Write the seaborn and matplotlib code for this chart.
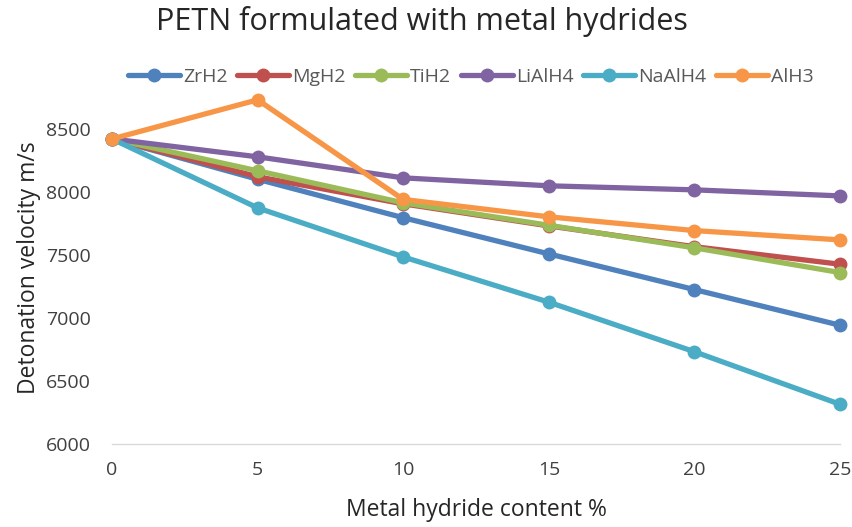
import pandas as pd
import matplotlib.pyplot as plt
import seaborn as sns

# data
content = [0, 5, 10, 15, 20, 25]
zrh2 = [8420, 8100, 7795, 7508, 7225, 6942]
mgh2 = [8420, 8120, 7905, 7730, 7565, 7426]
tih2 = [8420, 8167, 7913, 7735, 7556, 7360]
lialh4 = [8420, 8278, 8111, 8048, 8016, 7968]
naalh4 = [8420, 7873, 7484, 7125, 6732, 6315]
alh3 = [8420, 8730, 7940, 7802, 7693, 7619]

series = {'ZrH2': zrh2, 'MgH2': mgh2, 'TiH2': tih2,
          'LiAlH4': lialh4, 'NaAlH4': naalh4, 'AlH3': alh3}
rows = []
for name, vals in series.items():
    for x, v in zip(content, vals):
        rows.append({'content': x, 'velocity': v, 'hydride': name})
df = pd.DataFrame(rows)

colors = ['#4F81BD', '#C0504D', '#9BBB59', '#8064A2', '#4BACC6', '#F79646']

sns.set_style("white")
plt.rcParams['font.family'] = ['Open Sans', 'DejaVu Sans']

fig = plt.figure(figsize=(8.53, 5.27), dpi=100)
ax = fig.add_axes([0.1313, 0.1575, 0.8535, 0.6698])

sns.lineplot(data=df, x='content', y='velocity', hue='hydride', style='hydride',
             markers={k: 'o' for k in series}, dashes=False, palette=colors,
             linewidth=3.8, markersize=10, markeredgewidth=0, ax=ax)
for line in ax.lines:
    line.set_clip_on(False)

ax.set_xlim(0, 25)
ax.set_ylim(6000, 8800)
ax.set_xticks(content)
ax.set_yticks([6000, 6500, 7000, 7500, 8000, 8500])
ax.tick_params(axis='both', labelsize=14, colors='#404040', length=0)
ax.tick_params(axis='x', pad=12)
ax.tick_params(axis='y', pad=15)
for s in ['top', 'right', 'left']:
    ax.spines[s].set_visible(False)
ax.spines['bottom'].set_color('#D9D9D9')
ax.spines['bottom'].set_linewidth(1)

ax.set_xlabel('Metal hydride content %', fontsize=16.5, color='#262626', labelpad=14)
ax.set_ylabel('Detonation velocity m/s', fontsize=16.5, color='#262626', labelpad=4)
fig.text(0.495, 0.96, 'PETN formulated with metal hydrides', ha='center', va='center',
         fontsize=22, color='#262626')

leg = ax.legend(loc='center', bbox_to_anchor=(0.552, 0.854), bbox_transform=fig.transFigure,
                ncol=6, frameon=False, fontsize=14, handlelength=2.67, columnspacing=0.5,
                handletextpad=0.15, labelcolor='#595959')

fig.savefig('out.png', dpi=100)
